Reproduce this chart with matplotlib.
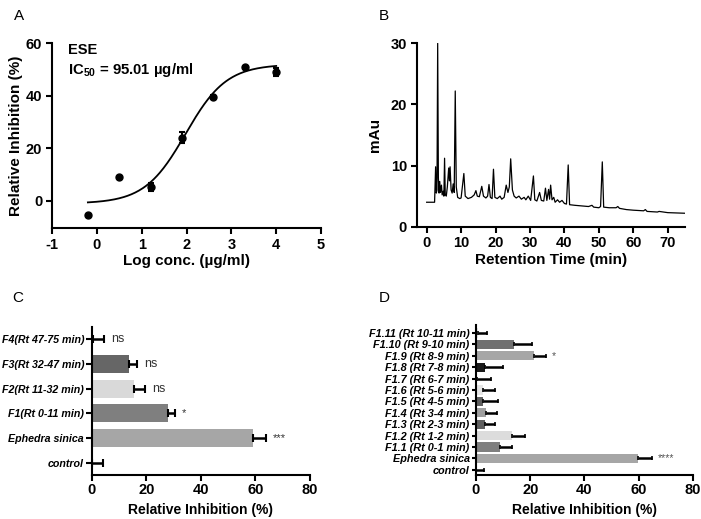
import matplotlib
matplotlib.use("Agg")
import matplotlib.pyplot as plt
import numpy as np

plt.rcParams['font.family'] = ['Liberation Sans', 'DejaVu Sans']
plt.rcParams['font.weight'] = 'bold'
plt.rcParams['mathtext.fontset'] = 'custom'
plt.rcParams['mathtext.rm'] = 'Liberation Sans'
plt.rcParams['mathtext.bf'] = 'Liberation Sans:bold'
plt.rcParams['axes.unicode_minus'] = False
plt.rcParams['axes.linewidth'] = 1.5
plt.rcParams['xtick.major.width'] = 1.5
plt.rcParams['ytick.major.width'] = 1.5
plt.rcParams['xtick.major.size'] = 4
plt.rcParams['ytick.major.size'] = 4

# A: dose response
log_conc = [-0.2, 0.5, 1.2, 1.9, 2.6, 3.3, 4.0]
inhibition = [-5.5, 9.1, 5.2, 24.1, 39.6, 50.8, 49.0]
inhibition_err = [0, 0, 1.5, 2.0, 0.6, 0, 1.5]
# fitted 4PL curve parameters (IC50 = 95.01 ug/ml)
fit_bottom, fit_top, fit_logic50, fit_hill = -1.0, 52.0, np.log10(95.01), 0.95

# B: chromatogram trace (time min, mAu)
rt = [0.0, 2.3, 2.6, 2.8, 3.0, 3.2, 3.4, 3.6, 3.8, 4.0, 4.3, 4.5, 4.8, 5.0, 5.2, 5.4, 5.7,
      6.0, 6.4, 6.6, 6.8, 7.1, 7.4, 7.7, 8.0, 8.3, 8.6, 9.0, 9.6, 10.0, 10.8, 11.2, 12.0,
      13.0, 13.8, 14.3, 14.7, 15.3, 16.0, 16.5, 17.2, 17.7, 18.1, 18.5, 19.0, 19.4, 19.8,
      20.5, 21.3, 21.8, 22.5, 23.1, 23.6, 24.0, 24.4, 24.9, 25.4, 26.0, 26.8, 27.5, 28.3,
      28.8, 29.5, 30.2, 31.0, 31.4, 32.0, 32.8, 33.3, 34.0, 34.5, 34.9, 35.4, 35.7, 36.0,
      36.4, 36.9, 37.3, 38.0, 38.6, 39.3, 40.0, 40.6, 41.1, 41.5, 43.0, 45.0, 47.0, 48.0,
      48.5, 50.0, 50.5, 51.0, 51.4, 53.0, 55.0, 55.5, 56.0, 58.0, 60.0, 63.0, 63.5, 64.0,
      67.0, 67.5, 70.0, 75.0]
mau = [4.0, 4.0, 9.8, 5.5, 6.0, 30.0, 8.0, 5.5, 7.4, 5.6, 6.8, 5.2, 5.8, 5.0, 11.2, 5.2, 5.0,
       6.5, 9.6, 7.5, 9.8, 6.0, 5.5, 7.0, 5.6, 22.2, 6.5, 4.8, 4.6, 4.7, 8.7, 5.0, 4.6,
       4.8, 5.2, 5.9, 5.0, 4.9, 6.6, 5.0, 4.7, 5.0, 6.9, 4.8, 4.6, 9.4, 4.8,
       4.6, 5.0, 4.5, 4.8, 6.8, 5.6, 6.5, 11.1, 6.0, 5.0, 4.7, 5.0, 4.5, 4.8,
       4.4, 5.0, 4.3, 8.3, 4.4, 4.2, 5.6, 4.3, 4.2, 6.3, 4.3, 6.1, 4.5, 6.8,
       4.4, 4.8, 4.0, 4.4, 4.0, 4.3, 3.8, 3.7, 10.1, 3.6, 3.5, 3.4, 3.3, 3.5,
       3.2, 3.1, 3.3, 10.6, 3.2, 3.1, 3.1, 3.3, 3.0, 2.8, 2.7, 2.6, 2.8, 2.5,
       2.4, 2.5, 2.3, 2.2]

# C: fractions
c_labels = ['control', 'Ephedra sinica', 'F1(Rt 0-11 min)', 'F2(Rt 11-32 min)',
            'F3(Rt 32-47 min)', 'F4(Rt 47-75 min)']
c_values = [0.0, 59.0, 28.0, 15.5, 13.7, 0.5]
c_err = [4.0, 5.0, 2.5, 4.0, 3.0, 4.0]
c_colors = ['#ffffff', '#a6a6a6', '#7f7f7f', '#d9d9d9', '#666666', '#e6e6e6']
c_sig = ['', '***', '*', 'ns', 'ns', 'ns']

# D: sub-fractions of F1
d_labels = ['control', 'Ephedra sinica', 'F1.1 (Rt 0-1 min)', 'F1.2 (Rt 1-2 min)',
            'F1.3 (Rt 2-3 min)', 'F1.4 (Rt 3-4 min)', 'F1.5 (Rt 4-5 min)',
            'F1.6 (Rt 5-6 min)', 'F1.7 (Rt 6-7 min)', 'F1.8 (Rt 7-8 min)',
            'F1.9 (Rt 8-9 min)', 'F1.10 (Rt 9-10 min)', 'F1.11 (Rt 10-11 min)']
d_values = [0.0, 59.8, 8.8, 13.1, 3.2, 3.6, 2.7, 2.5, 0.3, 3.3, 21.5, 14.0, 0.8]
d_err = [3.1, 5.2, 4.4, 4.9, 3.8, 4.0, 5.5, 4.6, 5.1, 6.7, 4.3, 6.6, 3.1]
d_colors = ['#ffffff', '#a6a6a6', '#7f7f7f', '#dcdcdc', '#606060', '#a0a0a0', '#606060',
            '#e6e6e6', '#9a9a9a', '#1a1a1a', '#a6a6a6', '#707070', '#e6e6e6']
d_sig = ['', '****', '', '', '', '', '', '', '', '', '*', '', '']

fig = plt.figure(figsize=(7.01, 5.19), dpi=100)

def style(ax):
    ax.spines['top'].set_visible(False)
    ax.spines['right'].set_visible(False)
    ax.tick_params(labelsize=10.5, pad=3)
    for t in ax.get_xticklabels() + ax.get_yticklabels():
        t.set_fontweight('bold')

# ---- A
axA = fig.add_axes([0.0742, 0.5607, 0.3838, 0.3559])
xs = np.linspace(-0.2, 4.0, 200)
ys = fit_bottom + (fit_top - fit_bottom) / (1 + 10 ** ((fit_logic50 - xs) * fit_hill))
axA.plot(xs, ys, 'k-', lw=1.3)
axA.errorbar(log_conc, inhibition, yerr=inhibition_err, fmt='o', color='k', ms=5,
             capsize=2.5, elinewidth=1.5, capthick=1.5)
axA.set_xlim(-1, 5)
axA.set_ylim(-10.3, 60)
axA.set_xticks(range(-1, 6))
axA.set_yticks([0, 20, 40, 60])
axA.set_xlabel('Log conc. (µg/ml)', fontsize=11, fontweight='bold', labelpad=2)
axA.set_ylabel('Relative Inhibition (%)', fontsize=11, fontweight='bold', labelpad=2)
axA.text(0.06, 1.0, 'ESE', transform=axA.transAxes, fontsize=10.5, fontweight='bold', va='top')
axA.text(0.06, 0.905, r'IC$_{\mathbf{50}}$ = 95.01 µg/ml', transform=axA.transAxes,
         fontsize=10.7, fontweight='bold', va='top')
style(axA)

# ---- B
axB = fig.add_axes([0.5944, 0.5632, 0.3827, 0.3534])
axB.plot(rt, mau, 'k-', lw=0.9)
axB.set_xlim(-2.9, 75)
axB.set_ylim(0, 30)
axB.set_xticks(range(0, 80, 10))
axB.set_yticks([0, 10, 20, 30])
axB.set_xlabel('Retention Time (min)', fontsize=11, fontweight='bold', labelpad=2)
axB.set_ylabel('mAu', fontsize=11, fontweight='bold', labelpad=6)
style(axB)

# ---- C
axC = fig.add_axes([0.1308, 0.0848, 0.3114, 0.2852])
yc = np.arange(len(c_labels))
axC.barh(yc, c_values, height=0.72, color=c_colors)
axC.errorbar(c_values, yc, xerr=[np.zeros(len(c_err)), c_err], fmt='none', ecolor='k',
             capsize=3, elinewidth=1.8, capthick=1.5)
for i, s in enumerate(c_sig):
    if s:
        axC.text(c_values[i] + c_err[i] + 2.5, yc[i], s, fontsize=9 if s == 'ns' else 8,
                 fontweight='normal', color='#333333', va='center')
axC.set_xlim(0, 80)
axC.set_ylim(-0.5, 5.5)
axC.set_xticks([0, 20, 40, 60, 80])
axC.set_yticks(yc)
axC.set_yticklabels(c_labels)
axC.set_xlabel('Relative Inhibition (%)', fontsize=10, fontweight='bold', labelpad=4)
style(axC)
axC.tick_params(axis='x', pad=2)
axC.tick_params(axis='y', pad=1.5)
for t in axC.get_yticklabels():
    t.set_fontsize(7.7)
    t.set_fontstyle('italic')

# ---- D
axD = fig.add_axes([0.679, 0.0848, 0.3096, 0.289])
yd = np.arange(len(d_labels))
axD.barh(yd, d_values, height=0.8, color=d_colors)
axD.errorbar(d_values, yd, xerr=[np.zeros(len(d_err)), d_err], fmt='none', ecolor='k',
             capsize=1.5, elinewidth=1.8, capthick=1.2)
for i, s in enumerate(d_sig):
    if s:
        axD.text(d_values[i] + d_err[i] + 2.0, yd[i], s, fontsize=7.5,
                 fontweight='normal', color='#555555', va='center')
axD.set_xlim(0, 80)
axD.set_ylim(-0.45, 12.7)
axD.set_xticks([0, 20, 40, 60, 80])
axD.set_yticks(yd)
axD.set_yticklabels(d_labels)
axD.set_xlabel('Relative Inhibition (%)', fontsize=10, fontweight='bold', labelpad=4)
style(axD)
axD.tick_params(axis='x', pad=2)
axD.tick_params(axis='y', length=3, pad=1.5)
for t in axD.get_yticklabels():
    t.set_fontsize(7.8)
    t.set_fontstyle('italic')

for lbl, x, y in [('A', 0.020, 0.982), ('B', 0.541, 0.982), ('C', 0.018, 0.44), ('D', 0.541, 0.44)]:
    fig.text(x, y, lbl, fontsize=11, fontweight='normal', va='top')

fig.savefig('out.png', dpi=100)
